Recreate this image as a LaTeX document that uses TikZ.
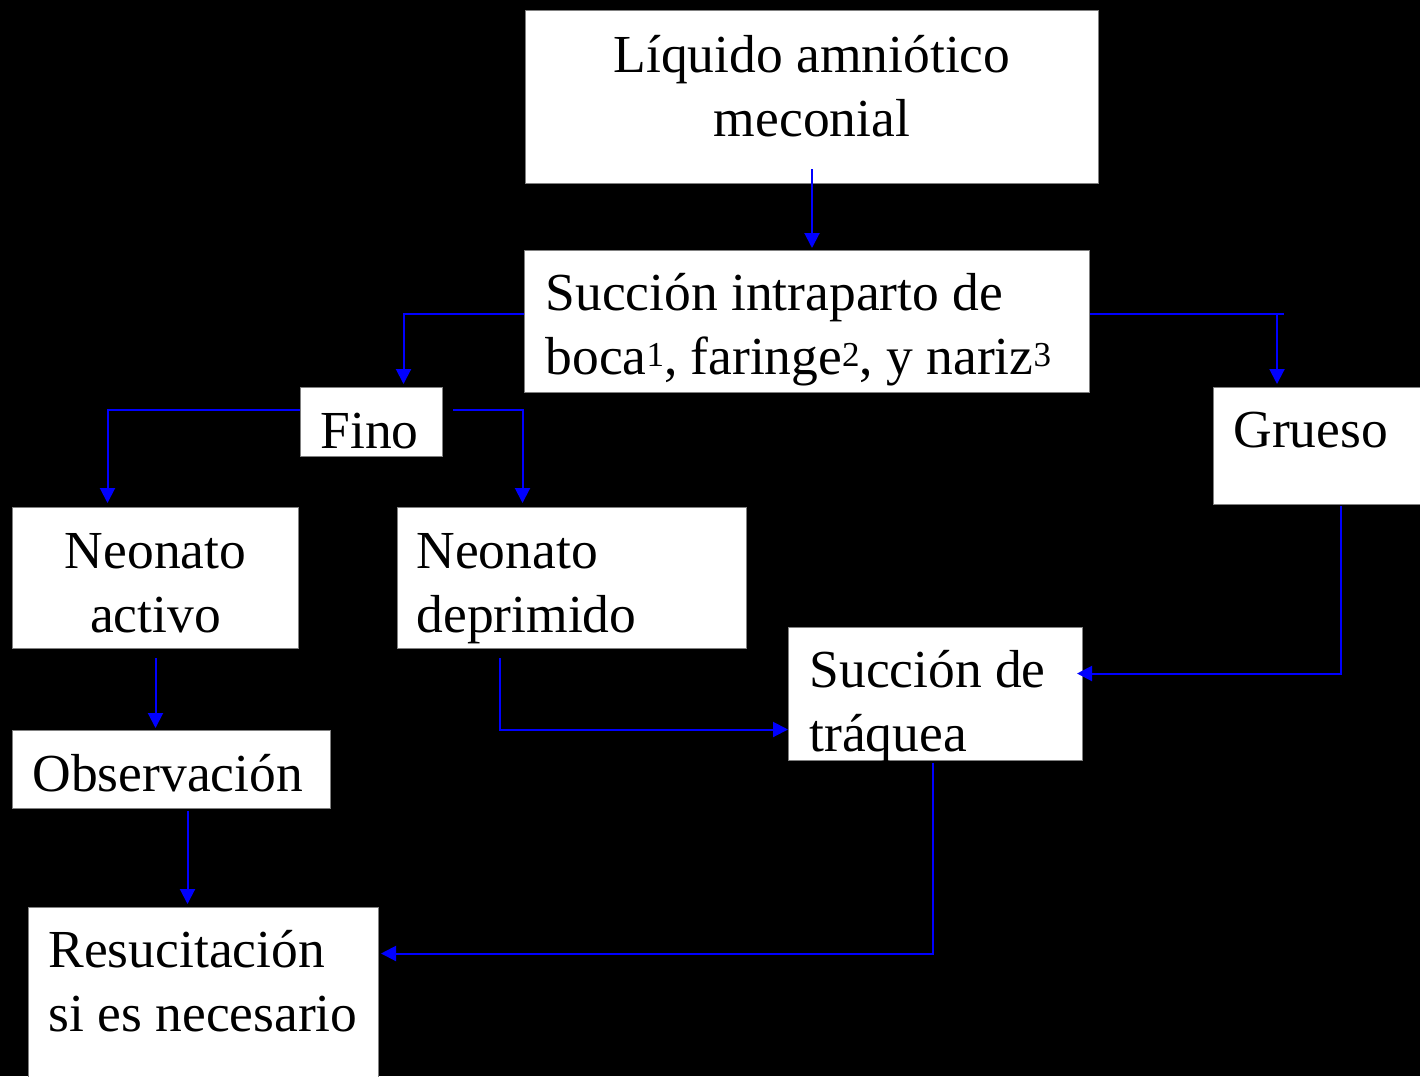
\documentclass[tikz,border=0pt]{standalone}
\usepackage{fontspec}
\setmainfont{Liberation Serif}
\usetikzlibrary{arrows.meta}
\newcommand{\supnum}[1]{\raisebox{8pt}{\fontsize{35}{35}\selectfont #1}}

\tikzset{
  box/.style={draw=gray, fill=white, line width=1pt, anchor=north west,
    inner sep=0pt, font=\fontsize{53.5}{63.5}\selectfont},
  midbox/.style={box, align=flush center},
  leftbox/.style={box, align=flush left, execute at begin node={\leftskip=#1\relax}},
  conn/.style={draw=blue, line width=2pt, -{Triangle[length=15pt,width=15pt]}},
  link/.style={draw=blue, line width=2pt},
}

\begin{document}
\begin{tikzpicture}[x=1pt,y=-1pt]
  \fill[black] (0,0) rectangle (1420,1076);
  \useasboundingbox (0,0) rectangle (1420,1076);

  % boxes
  \node[midbox, text width=573pt, minimum height=173pt, text height=62pt, text depth=111pt]
    (liq) at (525,10) {Líquido amniótico\\meconial};
  \node[leftbox=21pt, text width=565pt, minimum height=142pt, text height=60pt, text depth=82pt]
    (succ) at (524,250) {Succión intraparto de\\boca\supnum{1}, faringe\supnum{2}, y nariz\supnum{3}};
  \node[leftbox=20pt, text width=142pt, minimum height=69pt, text height=61pt, text depth=8pt]
    (fino) at (300,387) {Fino};
  \node[leftbox=20pt, text width=209pt, minimum height=117pt, text height=60pt, text depth=57pt]
    (grueso) at (1213,387) {Grueso};
  \node[midbox, text width=286pt, minimum height=141pt, text height=61pt, text depth=80pt]
    (act) at (12,507) {Neonato\\activo};
  \node[leftbox=19pt, text width=349pt, minimum height=141pt, text height=61pt, text depth=80pt]
    (dep) at (397,507) {Neonato\\deprimido};
  \node[leftbox=21pt, text width=294pt, minimum height=133pt, text height=60pt, text depth=73pt]
    (traq) at (788,627) {Succión de\\tráquea};
  \node[leftbox=20pt, text width=318pt, minimum height=78pt, text height=61pt, text depth=17pt]
    (obs) at (12,730) {Observación};
  \node[leftbox=20pt, text width=350pt, minimum height=171pt, text height=60pt, text depth=111pt]
    (resu) at (28,907) {Resucitación\\si es necesario};

  % connectors
  \draw[conn] ([yshift=15pt]liq.south) -- ([yshift=2pt]liq.south |- succ.north);
  \draw[conn] ([yshift=8pt]succ.west) -| ([xshift=32pt,yshift=3pt]fino.north);
  \draw[link] ([yshift=8pt]succ.east) -- ++(194,0);
  \draw[conn] ([yshift=8pt]succ.east) -| ([xshift=-41pt,yshift=3pt]grueso.north);
  \draw[conn] ([yshift=12.5pt]fino.west) -| ([xshift=-48pt,yshift=4pt]act.north);
  \draw[conn] ([xshift=10pt,yshift=12.5pt]fino.east) -| ([xshift=-49.5pt,yshift=4pt]dep.north);
  \draw[conn] ([yshift=-9pt]act.south) -- ([yshift=2pt]act.south |- obs.north);
  \draw[conn] ([xshift=16pt,yshift=-2pt]obs.south) -- ([xshift=16pt,yshift=3pt]obs.south |- resu.north);
  \draw[conn] ([xshift=-72.5pt,yshift=-9pt]dep.south) |- ([yshift=-35.5pt]traq.west);
  \draw[conn] ([xshift=22.5pt,yshift=-1pt]grueso.south) |- ([xshift=-6pt,yshift=20.5pt]traq.east);
  \draw[conn] ([xshift=-3pt,yshift=-2pt]traq.south) |- ([xshift=2pt,yshift=39.5pt]resu.east);
\end{tikzpicture}
\end{document}
